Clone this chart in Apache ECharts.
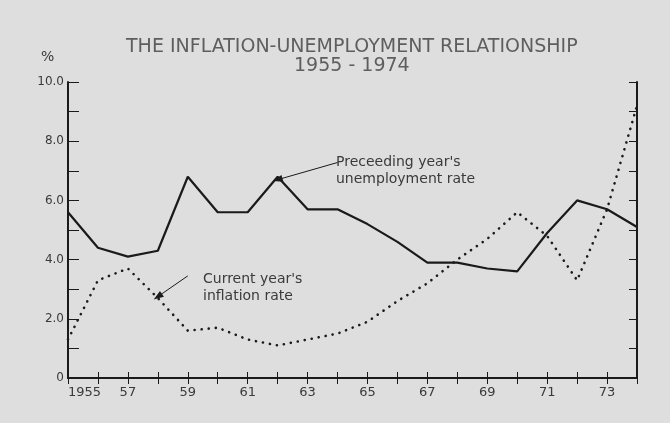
<!DOCTYPE html>
<html>
<head>
<meta charset="utf-8">
<script src="https://cdn.jsdelivr.net/npm/echarts@6/dist/echarts.min.js"></script>
<style>
html,body{margin:0;padding:0;background:#dedede;}
#c{width:670px;height:423px;}
</style>
</head>
<body>
<div id="c"></div>
<script>
var years = ['1955','1956','1957','1958','1959','1960','1961','1962','1963','1964','1965','1966','1967','1968','1969','1970','1971','1972','1973','1974'];
var unemployment = [5.6, 4.4, 4.1, 4.3, 6.8, 5.6, 5.6, 6.8, 5.7, 5.7, 5.2, 4.6, 3.9, 3.9, 3.7, 3.6, 4.9, 6.0, 5.7, 5.1];
var inflation = [1.3, 3.3, 3.7, 2.7, 1.6, 1.7, 1.3, 1.1, 1.3, 1.5, 1.9, 2.6, 3.2, 4.0, 4.7, 5.6, 4.8, 3.3, 5.7, 9.2];
var yTicks = [0, 2, 4, 6, 8, 10];
var titleLine1 = 'THE INFLATION-UNEMPLOYMENT RELATIONSHIP';
var titleLine2 = '1955 - 1974';
var unempNote = "Preceeding year's\nunemployment rate";
var inflNote = "Current year's\ninflation rate";

var FONT = 'DejaVu Sans';
var INK = '#1a1a1a';
var TXT = '#3a3a3a';

var chart = echarts.init(document.getElementById('c'), null, {renderer: 'canvas'});

function xLabel(v, i) {
  if (i === 0) return v;
  if (i % 2 === 0) return v.slice(2);
  return '';
}
function yLabel(v) {
  if (yTicks.indexOf(v) < 0) return '';
  return v === 0 ? '0' : v.toFixed(1);
}

var option = {
  backgroundColor: '#dedede',
  animation: false,
  title: [
    {text: titleLine1, left: 121, top: 33, textStyle: {fontFamily: FONT, fontSize: 19, fontWeight: 'normal', color: '#5e5e5e'}},
    {text: titleLine2, left: 289, top: 52, textStyle: {fontFamily: FONT, fontSize: 19, fontWeight: 'normal', color: '#5e5e5e'}}
  ],
  grid: {left: 68, right: 33, top: 82, bottom: 45, containLabel: false},
  xAxis: [
    {
      type: 'category', data: years, boundaryGap: false, position: 'bottom',
      axisLine: {lineStyle: {color: INK, width: 2}},
      axisTick: {inside: true, length: 6, interval: 0, lineStyle: {color: INK, width: 1}},
      axisLabel: {interval: 0, formatter: xLabel, margin: 8, fontFamily: FONT, fontSize: 13, color: TXT, alignMinLabel: 'left'},
      splitLine: {show: false}
    },
    {
      type: 'category', data: years, boundaryGap: false, position: 'top',
      axisLine: {lineStyle: {color: INK, width: 2}},
      axisTick: {inside: true, length: 6, interval: 0, lineStyle: {color: INK, width: 1}},
      axisLabel: {show: false},
      splitLine: {show: false}
    }
  ],
  yAxis: [
    {
      type: 'value', min: 0, max: 10, interval: 1, position: 'left',
      axisLine: {show: true, lineStyle: {color: INK, width: 2}},
      axisTick: {show: true, inside: true, length: 11, lineStyle: {color: INK, width: 1}},
      axisLabel: {formatter: yLabel, margin: 4, fontFamily: FONT, fontSize: 12, color: TXT},
      splitLine: {show: false}
    },
    {
      type: 'value', min: 0, max: 10, interval: 1, position: 'right',
      axisLine: {show: true, lineStyle: {color: INK, width: 2}},
      axisTick: {show: true, inside: true, length: 8, lineStyle: {color: INK, width: 1}},
      axisLabel: {show: false},
      splitLine: {show: false}
    }
  ],
  graphic: [
    {type: 'text', left: 41, top: 50, style: {text: '%', font: '14px ' + FONT, fill: TXT}},
    {type: 'text', left: 336, top: 154, style: {text: unempNote, font: '14px ' + FONT, fill: TXT, lineHeight: 17}},
    {type: 'text', left: 203, top: 271, style: {text: inflNote, font: '14px ' + FONT, fill: TXT, lineHeight: 17}}
  ],
  series: [
    {
      name: 'Unemployment', type: 'line', data: unemployment, symbol: 'none',
      lineStyle: {color: INK, width: 2.2}, z: 3,
      markLine: {
        silent: true, symbol: ['none', 'triangle'], symbolSize: [7, 10],
        label: {show: false},
        lineStyle: {color: INK, width: 1, type: 'solid'},
        data: [[{coord: [8.8, 7.28]}, {coord: [7.3, 6.7]}]]
      }
    },
    {
      name: 'Inflation', type: 'line', data: inflation, symbol: 'none',
      lineStyle: {color: INK, width: 2.6, type: [0.1, 7], cap: 'round'}, z: 2,
      markLine: {
        silent: true, symbol: ['none', 'triangle'], symbolSize: [7, 10],
        label: {show: false},
        lineStyle: {color: INK, width: 1, type: 'solid'},
        data: [[{coord: [4.45, 3.45]}, {coord: [3.05, 2.75]}]]
      }
    }
  ]
};
chart.setOption(option);
</script>
</body>
</html>
